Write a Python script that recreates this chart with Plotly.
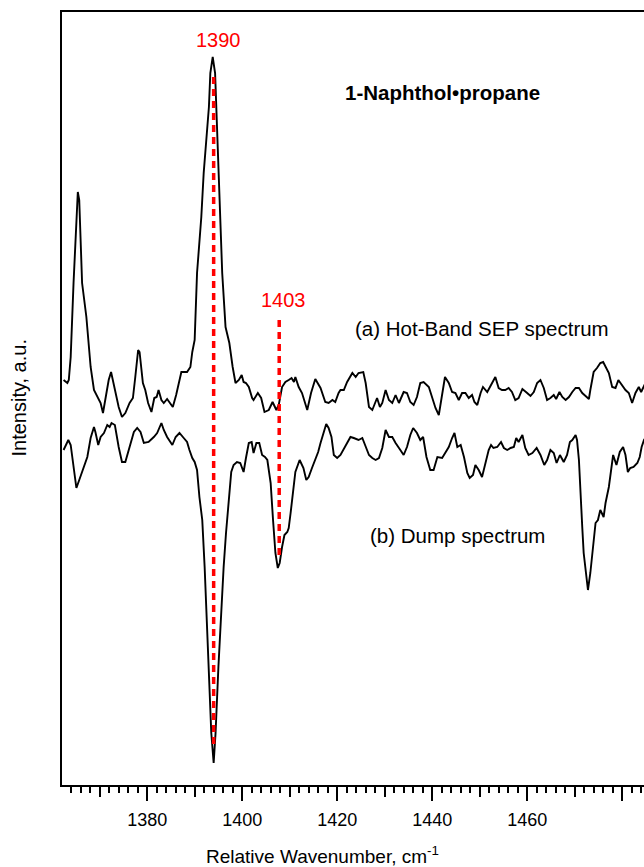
import plotly.graph_objects as go

# ---- data (relative wavenumber in cm^-1, intensity in a.u.) ----
wn_a = [1362.4,1363.2,1363.5,1363.9,1364.5,1365.1,1365.4,1365.7,1366.3,1367.2,1368.1,1368.8,1369.5,1370.2,1370.7,
        1371.4,1371.9,1372.4,1372.8,1373.3,1374.0,1374.7,1375.4,1376.3,1377.0,1377.5,1378.1,1378.4,1379.1,1379.6,
        1380.2,1380.9,1381.5,1382.0,1382.4,1383.0,1383.5,1384.2,1384.9,1385.4,1386.1,1387.2,1388.4,1389.1,1389.5,
        1390.0,1390.5,1391.1,1391.4,1391.9,1392.5,1393.0,1393.3,1393.8,1394.3,1394.7,1395.3,1395.8,1396.5,1397.1,
        1397.3,1398.0,1398.6,1399.3,1399.9,1400.3,1400.8,1401.4,1402.1,1402.4,1403.3,1404.0,1404.7,1405.6,1406.4,
        1407.2,1407.7,1408.4,1409.1,1409.8,1410.4,1410.9,1411.2,1411.9,1412.6,1413.7,1414.5,1415.4,1416.5,1417.5,
        1418.2,1419.0,1419.6,1420.3,1420.7,1421.4,1422.1,1423.2,1423.9,1424.5,1425.5,1426.0,1426.7,1427.4,1428.1,
        1428.4,1429.0,1429.5,1430.2,1430.9,1431.6,1432.3,1433.0,1434.0,1434.7,1435.4,1436.1,1436.8,1437.5,1438.2,
        1439.3,1440.0,1440.7,1441.4,1442.1,1442.7,1443.5,1444.2,1444.9,1445.6,1446.3,1447.0,1447.7,1448.4,1448.9,
        1449.5,1450.2,1450.7,1451.6,1452.6,1453.3,1454.0,1454.7,1455.4,1456.1,1456.8,1457.5,1458.2,1459.0,1460.0,
        1460.7,1461.4,1462.1,1462.8,1463.5,1464.2,1464.9,1465.6,1466.1,1466.8,1467.4,1468.1,1468.8,1469.5,1470.2,
        1470.9,1471.6,1472.3,1473.0,1473.3,1474.0,1474.7,1475.4,1476.0,1476.7,1477.2,1477.9,1478.6,1479.2,1480.0,
        1480.7,1481.4,1482.1,1482.8,1483.5,1484.0,1484.7,1485.5]
hot_band_sep = [4.05,4.02,4.05,4.28,5.02,5.68,5.93,5.85,5.02,4.68,4.18,3.95,3.88,3.82,3.72,
                3.92,4.05,4.13,4.05,3.95,3.78,3.68,3.72,3.82,3.87,4.08,4.35,4.33,4.02,3.95,
                3.82,3.73,3.87,3.88,3.95,3.85,3.82,3.86,3.81,3.78,3.90,4.13,4.13,4.18,4.33,
                4.45,5.12,5.52,5.68,6.12,6.45,6.78,7.12,7.28,7.12,6.62,5.78,5.12,4.58,4.45,
                4.42,4.18,4.02,4.05,4.10,4.03,4.02,3.98,3.87,3.85,3.92,3.87,3.73,3.75,3.83,
                3.75,3.80,3.98,4.03,4.05,4.07,4.03,4.08,3.98,3.92,3.75,3.92,4.06,3.97,3.83,
                3.82,3.85,3.83,3.92,3.95,3.95,4.03,4.12,4.08,4.12,4.13,4.02,3.78,3.75,3.83,
                3.87,3.78,3.82,3.95,3.85,3.82,3.90,3.82,3.93,3.92,3.83,3.80,3.88,4.02,4.03,
                3.98,3.88,3.77,3.70,3.92,4.08,4.02,3.93,3.92,3.85,3.92,3.92,3.87,3.90,3.83,
                3.80,3.92,3.98,3.93,4.02,4.08,3.97,3.95,3.95,3.97,3.93,3.85,3.87,3.96,3.92,
                3.89,3.93,4.02,4.05,3.97,3.85,3.87,3.90,3.86,3.93,3.88,3.85,3.88,3.93,3.97,
                3.97,3.92,3.89,3.86,3.95,4.13,4.17,4.22,4.23,4.17,4.12,3.98,3.97,4.05,4.00,
                3.95,3.92,3.82,3.92,3.98,3.93,4.00,3.98]

wn_b = [1362.4,1363.4,1363.9,1364.3,1365.1,1365.7,1366.7,1367.4,1368.1,1368.8,1369.1,1369.7,1370.2,1370.9,1371.6,
        1372.1,1372.5,1373.2,1374.0,1374.7,1375.4,1376.3,1377.2,1377.9,1378.6,1379.3,1380.3,1381.4,1382.1,1383.0,
        1383.5,1384.2,1385.3,1386.0,1386.8,1387.7,1388.4,1388.9,1389.5,1390.0,1390.5,1391.0,1391.6,1392.1,1392.6,
        1393.1,1393.5,1394.0,1394.4,1395.0,1395.6,1396.1,1396.6,1397.2,1397.7,1398.2,1398.9,1399.6,1400.3,1400.8,
        1401.4,1402.0,1402.4,1403.0,1403.6,1404.2,1404.8,1405.3,1406.0,1406.5,1407.0,1407.5,1407.9,1408.4,1408.9,
        1409.5,1409.8,1410.2,1410.5,1410.9,1411.2,1412.1,1412.6,1412.9,1413.5,1414.0,1414.7,1415.4,1416.0,1416.5,
        1417.2,1417.7,1418.2,1418.8,1419.3,1420.0,1420.7,1421.4,1422.1,1422.8,1423.5,1424.5,1425.3,1426.0,1426.7,
        1427.4,1428.1,1428.8,1429.5,1430.2,1430.9,1431.6,1432.3,1433.3,1434.0,1434.7,1435.4,1436.0,1436.8,1437.5,
        1438.1,1438.8,1439.6,1440.3,1441.1,1442.1,1442.8,1443.5,1444.2,1444.7,1445.3,1446.0,1446.7,1447.4,1447.9,
        1448.6,1449.1,1449.8,1450.5,1451.2,1451.9,1452.4,1452.9,1453.7,1454.5,1455.1,1455.8,1456.5,1457.2,1457.7,
        1458.2,1459.0,1459.6,1460.3,1461.1,1462.0,1462.8,1463.6,1464.2,1464.9,1465.6,1466.2,1466.9,1467.7,1468.4,
        1469.0,1469.5,1470.2,1470.5,1470.9,1471.2,1471.6,1471.9,1472.3,1472.8,1473.3,1473.9,1474.4,1474.9,1475.4,
        1476.1,1476.5,1477.2,1477.7,1478.1,1478.8,1479.5,1480.2,1480.7,1481.2,1481.7,1482.4,1483.2,1483.7,1484.1,
        1484.6,1485.5]
dump = [3.35,3.45,3.40,3.25,2.97,3.05,3.18,3.28,3.47,3.58,3.53,3.40,3.48,3.52,3.60,
        3.58,3.62,3.60,3.38,3.23,3.23,3.38,3.53,3.57,3.53,3.42,3.43,3.48,3.52,3.62,
        3.55,3.48,3.40,3.48,3.52,3.47,3.43,3.35,3.27,3.23,3.15,2.88,2.65,2.18,1.52,
        0.92,0.52,0.22,0.52,1.18,1.78,2.18,2.52,2.85,3.13,3.20,3.23,3.22,3.13,3.27,
        3.42,3.43,3.32,3.42,3.42,3.30,3.28,3.25,3.02,2.65,2.32,2.17,2.22,2.38,2.50,
        2.53,2.57,2.72,2.85,2.98,3.13,3.25,3.20,3.17,3.05,3.08,3.17,3.25,3.33,3.42,
        3.53,3.61,3.57,3.48,3.30,3.27,3.30,3.36,3.42,3.48,3.47,3.45,3.47,3.38,3.30,
        3.27,3.25,3.27,3.37,3.55,3.48,3.48,3.42,3.35,3.30,3.38,3.50,3.57,3.52,3.45,
        3.48,3.28,3.15,3.15,3.28,3.27,3.32,3.38,3.47,3.52,3.38,3.40,3.28,3.12,3.07,
        3.10,3.20,3.15,3.08,3.22,3.35,3.40,3.37,3.38,3.43,3.37,3.35,3.37,3.38,3.47,
        3.43,3.50,3.37,3.30,3.32,3.37,3.30,3.20,3.25,3.35,3.32,3.22,3.30,3.23,3.30,
        3.43,3.45,3.50,3.45,3.25,2.88,2.58,2.32,2.15,1.95,2.12,2.38,2.62,2.65,2.75,
        2.68,2.82,2.98,3.18,3.30,3.20,3.33,3.38,3.30,3.13,3.17,3.18,3.22,3.28,3.38,
        3.45,3.52]

peak_labels = ["1390", "1403"]
peak_pos = [1394.0, 1407.8]
peak_top = [7.08, 4.65]
peak_bottom = [0.38, 2.25]

tick_vals = [1380, 1400, 1420, 1440, 1460, 1480]
tick_text = ["1380", "1400", "1420", "1440", "1460", ""]

trace_labels = ["(a) Hot-Band SEP spectrum", "(b) Dump spectrum"]
title_text = "1-Naphthol\u2022propane"

FONT = "Liberation Sans, Arial, sans-serif"
xr = [1362.07, 1484.6]

fig = go.Figure()
fig.add_trace(go.Scatter(x=wn_a, y=hot_band_sep, mode="lines",
                         line=dict(color="black", width=1.9), showlegend=False))
fig.add_trace(go.Scatter(x=wn_b, y=dump, mode="lines",
                         line=dict(color="black", width=1.9), showlegend=False))
for p, t, b in zip(peak_pos, peak_top, peak_bottom):
    fig.add_trace(go.Scatter(x=[p, p], y=[t, b], mode="lines",
                             line=dict(color="#ff0000", width=3.5, dash="7px,5px"),
                             showlegend=False))
# invisible trace to activate overlay axis
fig.add_trace(go.Scatter(x=[xr[0]], y=[0], xaxis="x2", mode="markers",
                         marker=dict(opacity=0), showlegend=False, hoverinfo="skip"))

fig.update_layout(
    width=644, height=867,
    margin=dict(l=62, r=0, t=12, b=82),
    plot_bgcolor="white", paper_bgcolor="white",
    font=dict(family=FONT, size=17, color="black"),
    xaxis=dict(range=xr, showline=True, linecolor="black", linewidth=2, mirror=True,
               showgrid=False, zeroline=False, ticks="outside", tick0=1380, dtick=10,
               ticklen=10, tickwidth=1.5, tickcolor="black", showticklabels=False,
               minor=dict(ticks="outside", tick0=1380, dtick=2, ticklen=6,
                          tickwidth=1.5, tickcolor="black", showgrid=False)),
    xaxis2=dict(range=xr, overlaying="x", anchor="y", side="bottom", showline=False,
                showgrid=False, zeroline=False, ticks="outside",
                tickmode="array", tickvals=tick_vals, ticktext=tick_text,
                ticklen=15, tickwidth=1.5, tickcolor="black", ticklabelstandoff=3,
                tickfont=dict(family=FONT, size=18, color="black")),
    yaxis=dict(range=[0, 7.73], showline=True, linecolor="black", linewidth=2,
               showgrid=False, zeroline=False, ticks="", showticklabels=False),
)

ann = [
    dict(text="Intensity, a.u.", xref="paper", yref="paper", x=-0.0756, y=0.5,
         textangle=-90, showarrow=False, xanchor="center", yanchor="middle",
         font=dict(size=20)),
    dict(text="Relative Wavenumber, cm<sup>-1</sup>", xref="paper", yref="paper",
         x=0.244, y=-0.0906, showarrow=False, xanchor="left", yanchor="middle",
         font=dict(size=19)),
    dict(text="<b>" + title_text + "</b>", xref="x", yref="y", x=1442.2, y=6.93,
         showarrow=False, xanchor="center", yanchor="middle", font=dict(size=20.5)),
    dict(text=trace_labels[0], xref="x", yref="y", x=1450.5, y=4.57,
         showarrow=False, xanchor="center", yanchor="middle", font=dict(size=20.5)),
    dict(text=trace_labels[1], xref="x", yref="y", x=1445.3, y=2.50,
         showarrow=False, xanchor="center", yanchor="middle", font=dict(size=20.5)),
    dict(text=peak_labels[0], xref="x", yref="y", x=1395.0, y=7.45,
         showarrow=False, xanchor="center", yanchor="middle",
         font=dict(size=20, color="#ff0000")),
    dict(text=peak_labels[1], xref="x", yref="y", x=1408.7, y=4.85,
         showarrow=False, xanchor="center", yanchor="middle",
         font=dict(size=20, color="#ff0000")),
]
fig.update_layout(annotations=ann)

fig.write_html("out.html")
